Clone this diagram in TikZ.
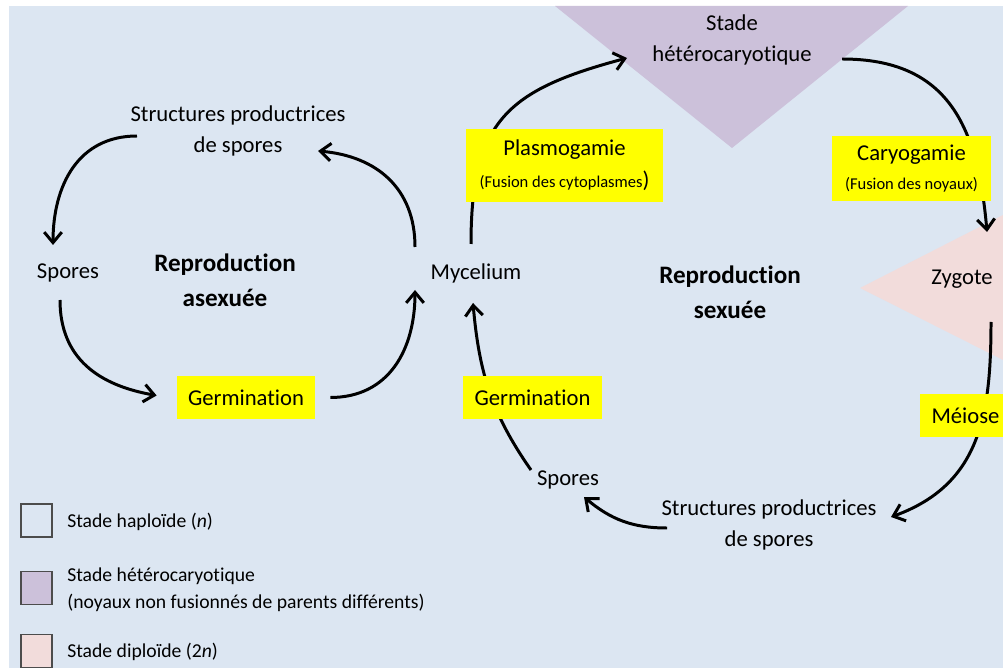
\documentclass[tikz,border=0pt]{standalone}
\usepackage{fontspec}
\setmainfont[Ligatures=NoCommon]{Carlito}
\usetikzlibrary{arrows.meta}

\definecolor{fond}{HTML}{DCE6F2}
\definecolor{hetero}{HTML}{CCC1DA}
\definecolor{diplo}{HTML}{F2DCDB}
\definecolor{jaune}{HTML}{FFFF00}

\newcommand\szmain{\fontsize{12.9}{17.2}\selectfont}
\newcommand\szbold{\fontsize{14.3}{19.8}\selectfont\bfseries}
\newcommand\szsmall{\fontsize{9.4}{11}\selectfont}
\newcommand\szlegend{\fontsize{11.2}{15.3}\selectfont}

\tikzset{
  txt/.style={align=center, font=\szmain, inner sep=0pt},
  titre/.style={align=center, font=\szbold, inner sep=0pt},
  etape/.style={fill=jaune, align=center, font=\szmain, inner sep=0pt},
  fleche/.style={line width=1.7pt, -{Straight Barb[length=6pt,width=10pt]}},
  ligne/.style={line width=1.7pt},
  legbox/.style={draw=black!70, line width=0.8pt, minimum width=0.62cm, minimum height=0.66cm, inner sep=0pt},
  legtxt/.style={anchor=west, align=left, font=\szlegend, inner sep=0pt},
}

\begin{document}
\begin{tikzpicture}[x=0.02cm, y=-0.02cm]
\useasboundingbox (0,0) rectangle (1003,668);
\clip (0,0) rectangle (1003,668);
\fill[fond] (9,6) rectangle (1003,668);

% stades
\fill[hetero] (555,6) -- (908,6) -- (732,148) -- cycle;
\fill[diplo] (860,288) -- (1003,215) -- (1003,360) -- cycle;

% reproduction asexuee
\node[txt] (struct1) at (238,131) {Structures productrices\\de spores};
\node[txt] (spores1) at (68,273) {Spores};
\node[titre] (asex) at (225,280.5) {Reproduction\\asexuée};
\node[txt] (myc) at (476,273) {Mycelium};
\node[etape, minimum width=2.76cm, minimum height=0.86cm] (germ1) at (246,397.5) {Germination};

\draw[fleche] ([shift={(-101,5)}]struct1.center) to[out=180, in=90, looseness=1.1] ([shift={(-15,-28)}]spores1.center);
\draw[fleche] ([shift={(-8,27)}]spores1.center) to[out=-90, in=170, looseness=1.1] ([shift={(-20,-2)}]germ1.west);
\draw[fleche] ([shift={(15,0)}]germ1.east) to[out=0, in=-90, looseness=1.1] ([shift={(-61,17)}]myc.center);
\draw[fleche] ([shift={(-61,-26)}]myc.center) to[out=90, in=-5, looseness=1.1] ([shift={(80,20)}]struct1.center);

% reproduction sexuee
\node[txt] (stade) at (732,40) {Stade\\hétérocaryotique};
\node[txt] (zyg) at (962,279) {Zygote};
\node[titre] (sex) at (730,292.5) {Reproduction\\sexuée};
\node[txt] (struct2) at (769,525) {Structures productrices\\de spores};
\node[txt] (spores2) at (568,480) {Spores};

\draw[fleche] ([shift={(-5,-29)}]myc.center) to[out=90, in=195, looseness=1.3] ([shift={(-105,18)}]stade.center);
\draw[fleche] ([shift={(110,19)}]stade.center) to[out=0, in=95, looseness=1.2] ([shift={(25,-47)}]zyg.center);
\draw[fleche] ([shift={(29,43)}]zyg.center) to[out=-90, in=20, looseness=1.1] ([shift={(122,-8)}]struct2.center);
\draw[fleche] ([shift={(-102,3)}]struct2.center) to[out=180, in=-40] ([shift={(16,17)}]spores2.center);
\draw[fleche] ([shift={(-37,-10)}]spores2.center) to[out=125, in=-85] ([shift={(-3,30)}]myc.center);

\node[etape, minimum width=3.94cm, minimum height=1.46cm] (plasmo) at (564.5,165.5) {Plasmogamie\\[1pt]{\szsmall (Fusion des cytoplasmes})};
\node[etape, minimum width=3.18cm, minimum height=1.3cm] (caryo) at (911.5,168.5) {Caryogamie\\[-1pt]{\szsmall (Fusion des noyaux)}};
\node[etape, minimum width=1.82cm, minimum height=0.86cm] (meiose) at (965.5,415.5) {Méiose};
\node[etape, minimum width=2.78cm, minimum height=0.86cm] (germ2) at (532.5,397.5) {Germination};

% legende
\node[legbox, fill=fond] (leg1) at (36.5,520.5) {};
\node[legbox, fill=hetero] (leg2) at (36.5,588) {};
\node[legbox, fill=diplo] (leg3) at (36.5,651) {};
\node[legtxt] (legt1) at (67,522) {Stade haploïde (\textit{n})};
\node[legtxt] (legt2) at (67,589.5) {Stade hétérocaryotique\\(noyaux non fusionnés de parents différents)};
\node[legtxt] (legt3) at (67,652) {Stade diploïde (2\textit{n})};
\end{tikzpicture}
\end{document}
